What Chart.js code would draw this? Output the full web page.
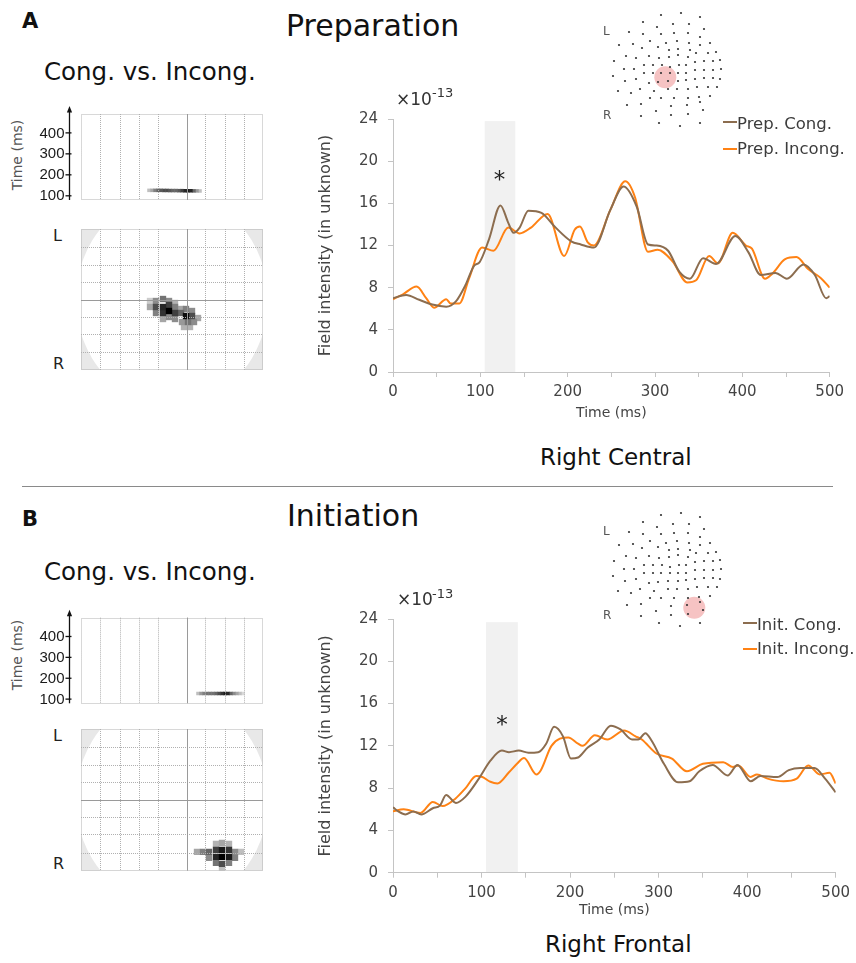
<!DOCTYPE html>
<html lang="en">
<head>
<meta charset="UTF-8">
<title>Cong. vs. Incong. – Preparation / Initiation</title>
<style>
  body { margin: 0; background: #fff; font-family: "DejaVu Sans", sans-serif; color: #222; }
  #fig { position: relative; width: 856px; height: 963px; overflow: hidden; background: #fff; }
  #fig canvas { position: absolute; }
  .t { position: absolute; line-height: 1; white-space: nowrap; }
  .big { font-size: 30px; color: #111; }
  .sub { font-size: 24.5px; color: #111; }
  .lab { font-weight: bold; font-size: 21px; color: #111; }
  .roi { font-size: 23px; color: #111; }
  .lr { font-size: 16px; color: #222; }
  .lr-s { font-size: 12px; color: #555; }
  .tms { font-size: 14px; color: #555; transform: translate(-50%, -50%) rotate(-90deg); }
  .leg { font-size: 16.5px; color: #3c3c3c; }
  .leg i { position: absolute; left: -14px; width: 14px; height: 2px; }
  .mul { font-size: 17px; color: #333; }
  .exp { font-size: 13px; color: #333; }
  #sep { position: absolute; left: 22px; top: 486px; width: 811px; height: 1px; background: #8a8a8a; }
</style>
</head>
<body>
<div id="fig">
  <!-- panel A -->
  <div class="t lab" style="left:22px; top:10.5px;">A</div>
  <div class="t big" style="left:286px; top:11px;">Preparation</div>
  <div class="t sub" style="left:44px; top:60px;">Cong. vs. Incong.</div>
  <div class="t tms" style="left:17px; top:155px;">Time (ms)</div>
  <div class="t lr" style="left:53px; top:228px;">L</div>
  <div class="t lr" style="left:53px; top:356px;">R</div>
  <canvas id="brainTA" width="280" height="110" style="left:0; top:100px;"></canvas>
  <canvas id="brainHA" width="280" height="160" style="left:0; top:220px;"></canvas>
  <canvas id="chartA" width="540" height="330" style="left:310px; top:100px;"></canvas>
  <canvas id="sensA" width="140" height="140" style="left:596.7px; top:0;"></canvas>
  <div class="t lr-s" style="left:603px; top:25px;">L</div>
  <div class="t lr-s" style="left:603px; top:108.5px;">R</div>
  <div class="t mul" style="left:396px; top:90.8px;">×10</div>
  <div class="t exp" style="left:432px; top:86.2px;">-13</div>
  <div class="t leg" style="left:737px; top:116.3px;"><i style="top:5px; background:#8c6d4f;"></i>Prep. Cong.</div>
  <div class="t leg" style="left:737px; top:140.6px;"><i style="top:7px; background:#ff8214;"></i>Prep. Incong.</div>
  <div class="t roi" style="left:540px; top:445.5px;">Right Central</div>

  <div id="sep"></div>

  <!-- panel B -->
  <div class="t lab" style="left:22px; top:508.7px;">B</div>
  <div class="t big" style="left:287px; top:500.6px;">Initiation</div>
  <div class="t sub" style="left:44px; top:560px;">Cong. vs. Incong.</div>
  <div class="t tms" style="left:17px; top:655px;">Time (ms)</div>
  <div class="t lr" style="left:53px; top:728px;">L</div>
  <div class="t lr" style="left:53px; top:856px;">R</div>
  <canvas id="brainTB" width="280" height="110" style="left:0; top:600px;"></canvas>
  <canvas id="brainHB" width="280" height="160" style="left:0; top:720px;"></canvas>
  <canvas id="chartB" width="546" height="330" style="left:310px; top:600px;"></canvas>
  <canvas id="sensB" width="140" height="140" style="left:596.7px; top:500px;"></canvas>
  <div class="t lr-s" style="left:603px; top:525px;">L</div>
  <div class="t lr-s" style="left:603px; top:608.5px;">R</div>
  <div class="t mul" style="left:397px; top:591px;">×10</div>
  <div class="t exp" style="left:432px; top:586.5px;">-13</div>
  <div class="t leg" style="left:757px; top:617.1px;"><i style="top:5px; background:#8c6d4f;"></i>Init. Cong.</div>
  <div class="t leg" style="left:757px; top:641.1px;"><i style="top:7px; background:#ff8214;"></i>Init. Incong.</div>
  <div class="t roi" style="left:545px; top:933px;">Right Frontal</div>
</div>

<script src="https://cdn.jsdelivr.net/npm/chart.js"></script>
<script>
  // ---- field intensity curves (x10^-13), time in ms ----
  const prepCongT = [0, 15, 30, 45, 61, 72, 83, 93, 99, 110, 123, 132, 138, 145, 155, 170, 185, 204, 215, 230, 249, 264, 279, 292, 302, 315, 328, 340, 355, 370, 392, 407, 421, 438, 451, 470, 483, 496, 500];
  const prepCongV = [7.0, 7.3, 6.85, 6.4, 6.2, 6.7, 8.25, 10.1, 10.4, 12.6, 15.8, 14.15, 13.2, 13.7, 15.3, 15.1, 13.8, 12.4, 12.1, 11.8, 15.4, 17.6, 15.7, 12.1, 12.0, 11.5, 9.5, 8.85, 10.8, 10.25, 12.9, 11.35, 9.2, 9.4, 8.85, 10.2, 9.2, 7.0, 7.2];
  const prepIncongT = [0, 11, 27, 38, 47, 61, 66, 76, 87, 102, 115, 132, 145, 158, 177, 196, 208, 214, 223, 230, 249, 266, 277, 292, 303, 320, 337, 347, 362, 372, 389, 404, 411, 426, 434, 449, 462, 475, 490, 500];
  const prepIncongV = [6.9, 7.35, 8.1, 7.0, 6.1, 6.9, 6.5, 6.5, 8.85, 11.8, 11.5, 13.7, 13.15, 13.7, 15.0, 11.0, 13.5, 13.8, 12.3, 12.0, 15.4, 18.1, 16.6, 11.4, 11.6, 10.5, 8.5, 8.7, 11.0, 10.3, 13.2, 12.0, 11.7, 8.85, 9.3, 10.7, 10.9, 9.8, 8.9, 8.0];

  const initCongT = [0, 6, 14, 23, 32, 45, 53, 60, 71, 82, 97, 110, 123, 131, 142, 153, 164, 173, 182, 192, 201, 209, 220, 233, 246, 257, 270, 277, 285, 292, 306, 322, 335, 346, 361, 378, 389, 404, 415, 434, 447, 460, 476, 488, 500];
  const initCongV = [6.2, 5.8, 5.5, 5.8, 5.5, 6.1, 6.35, 7.35, 6.6, 7.2, 8.9, 10.6, 11.55, 11.4, 11.55, 11.35, 11.4, 12.2, 13.8, 12.9, 10.8, 10.9, 11.85, 12.6, 13.9, 13.55, 12.6, 12.6, 13.2, 12.5, 10.3, 8.55, 8.65, 9.6, 10.2, 9.2, 10.2, 8.65, 9.15, 9.05, 9.7, 9.9, 9.9, 8.9, 7.6];
  const initIncongT = [0, 12, 31, 45, 56, 71, 82, 94, 101, 110, 118, 131, 140, 148, 162, 167, 179, 198, 209, 214, 228, 242, 261, 274, 281, 298, 315, 332, 350, 373, 384, 390, 404, 411, 423, 441, 456, 469, 482, 493, 500];
  const initIncongV = [5.8, 6.0, 5.65, 6.7, 6.3, 7.05, 8.0, 9.15, 9.05, 8.6, 8.45, 9.5, 10.3, 10.85, 9.3, 9.7, 12.0, 12.8, 12.2, 12.0, 13.0, 12.6, 13.45, 12.9, 12.6, 11.25, 10.8, 9.6, 10.3, 10.45, 10.0, 10.15, 9.05, 9.3, 8.9, 8.65, 8.9, 10.15, 9.3, 9.45, 8.45];

  // significant window [start ms, end ms, top value] and asterisk [ms, value]
  const windowA = [105, 140, 23.8];
  const windowB = [105, 141, 23.7];
  const starA = [122, 18.4];
  const starB = [123, 14.2];

  // ---- glass-brain panels (sensor-space x, y and time) ----
  const timeTicks = [100, 200, 300, 400];
  const gridX = [-72, -52.5, -33, -14.5, 14.5, 33, 52.5, 72];
  const gridY = [-52.8, -34.6, -17.5, 17.5, 34.6, 52.8];
  const crossX = 14.5;

  const clusterTimeAX = [-23, -20, -17, -14, -11, -8, -5, -2, 1, 4, 7, 10, 13, 16, 19, 22, 25, 28];
  const clusterTimeAT = [126, 126, 126, 126, 126, 125.5, 125.5, 125, 125, 125, 124.5, 124.5, 124, 124, 124, 123.5, 123.5, 123];
  const clusterTimeAV = [0.25, 0.35, 0.5, 0.6, 0.65, 0.7, 0.7, 0.65, 0.6, 0.6, 0.65, 0.75, 0.85, 0.9, 0.85, 0.6, 0.4, 0.25];
  const clusterSpaceAX = [-22, -16, -9, -3, 3, -22, -16, -9, -3, 3, 9, -16, -9, -3, 3, 9, -9, -3, 3, 14, 20, 14, 20, 26, 10, 16, 22, 12, 18];
  const clusterSpaceAY = [-1.5, -1.5, 0.5, -1.5, -3.5, -7.5, -7.5, -7.5, -5.5, -7.5, -9.5, -13.5, -13.5, -11.5, -13.5, -13.5, -19.5, -17.5, -19.5, -9.5, -11.5, -16.5, -16.5, -18.5, -22.5, -22.5, -22.5, -27.5, -27.5];
  const clusterSpaceAV = [0.2, 0.45, 0.55, 0.45, 0.3, 0.35, 0.7, 0.85, 0.75, 0.5, 0.35, 0.5, 0.8, 1.0, 0.75, 0.6, 0.35, 0.45, 0.45, 0.5, 0.45, 0.95, 0.7, 0.35, 0.4, 0.55, 0.45, 0.3, 0.3];

  const clusterTimeBX = [26, 29, 32, 35, 38, 41, 44, 47, 50, 53, 56, 59, 62, 65, 68, 71];
  const clusterTimeBT = [127, 127, 127, 127, 127, 127, 127, 127, 127, 127, 127, 127, 127, 127, 127, 127];
  const clusterTimeBV = [0.25, 0.4, 0.5, 0.55, 0.55, 0.55, 0.6, 0.7, 0.8, 0.9, 0.85, 0.6, 0.45, 0.35, 0.25, 0.15];
  const clusterSpaceBX = [44, 50, 57, 25, 31, 37, 44, 50, 57, 63, 69, 37, 44, 50, 57, 63, 44, 50, 57, 50];
  const clusterSpaceBY = [-44, -43, -44, -52, -52, -52, -50, -50, -50, -52, -52, -58, -57, -57, -57, -58, -63, -64, -63, -69];
  const clusterSpaceBV = [0.3, 0.35, 0.3, 0.35, 0.5, 0.6, 0.75, 0.9, 0.8, 0.45, 0.25, 0.45, 0.85, 1.0, 0.9, 0.5, 0.55, 0.7, 0.5, 0.25];

  // ---- MEG sensor layout (top view) and selected region ----
  const sensorX = [-6, 14, 33, -24, -10, 6, 22, 37, -38, -24, -6, 7, 21, 33, -17, -1, 10, 22, 43, -48, -34, -25, -9, 2, 11, 23, 33, 49, -41, -31, -18, -8, 2, 11, 21, 29, 41, -53, -23, -14, -5, 3, 12, 19, 28, 37, 46, 53, -43, -33, -23, -14, -6, 3, 11, 19, 28, 37, 46, 54, -54, -42, -31, -18, -9, 1, 11, 19, 28, 37, 46, 53, -49, -36, -27, -13, 1, 10, 21, 30, 41, 50, -40, -26, -17, -6, 7, 21, 32, 43, -26, -11, 4, 20, 33, 36, 21, 4, -8, 13, 33];
  const sensorY = [55, 57, 53, 48, 43, 46, 46, 41, 38, 36, 36, 37, 37, 33, 29, 27, 29, 27, 27, 25, 26, 22, 23, 20, 21, 20, 25, 18, 14, 12, 14, 12, 13, 15, 13, 17, 17, 9, 5, 5, 5, 3, 5, 5, 8, 9, 9, 10, 1, 1, -3, -3, -3, -3, -3, -3, 0, 0, 0, 1, -6, -11, -9, -13, -12, -11, -11, -10, -9, -8, -8, -9, -21, -23, -19, -21, -19, -19, -19, -17, -17, -17, -35, -34, -28, -28, -28, -28, -27, -26, -46, -41, -36, -35, -32, -40, -44, -45, -53, -56, -53];
  const roiA = [-1.7, -7.3];
  const roiB = [27.3, -37.7];

  const BROWN = '#8c6d4f';
  const ORANGE = '#ff8214';
  const FONT = '"DejaVu Sans", sans-serif';
  Chart.defaults.font.family = FONT;

  function pts(xs, ys) { return xs.map((x, i) => ({ x, y: ys[i] })); }

  // ---------- line charts ----------
  function lineChart(id, series, win, star, geo) {
    const marks = {
      id: 'marks',
      beforeDraw(c) {
        const { ctx, scales: { x, y } } = c;
        const l = x.getPixelForValue(win[0]), r = x.getPixelForValue(win[1]);
        const t = y.getPixelForValue(win[2]), b = y.getPixelForValue(0);
        ctx.save();
        ctx.fillStyle = '#f1f1f1';
        ctx.fillRect(l, t, r - l, b - t);
        ctx.restore();
      },
      afterDatasetsDraw(c) {
        const { ctx, scales: { x, y } } = c;
        ctx.save();
        ctx.fillStyle = '#222';
        ctx.font = '23px ' + FONT;
        ctx.textAlign = 'center';
        ctx.textBaseline = 'middle';
        ctx.fillText('*', x.getPixelForValue(star[0]), y.getPixelForValue(star[1]) + 3);
        ctx.restore();
      }
    };
    const tickFont = { family: FONT, size: 15 };
    new Chart(document.getElementById(id), {
      type: 'line',
      data: {
        datasets: series.map(s => ({
          label: s.label,
          data: pts(s.t, s.v),
          borderColor: s.color,
          borderWidth: 2,
          pointRadius: 0,
          fill: false,
          cubicInterpolationMode: 'monotone'
        }))
      },
      options: {
        responsive: false,
        animation: false,
        events: [],
        layout: { autoPadding: false, padding: { left: 0, top: geo.top, right: geo.right, bottom: 0 } },
        plugins: { legend: { display: false }, tooltip: { enabled: false } },
        scales: {
          x: {
            type: 'linear', min: 0, max: 500,
            ticks: { stepSize: 50, autoSkip: false, maxRotation: 0, padding: 6, color: '#444', font: tickFont,
                     callback: v => (v % 100 === 0 ? String(v) : '') },
            grid: { drawOnChartArea: false, drawTicks: true, tickLength: 5, color: '#c4c4c4' },
            border: { color: '#c4c4c4' },
            title: { display: true, text: 'Time (ms)', color: '#444', font: { family: FONT, size: 14 },
                     padding: { top: 0, bottom: geo.titleB } },
            afterFit: s => { s.height = geo.xh; }
          },
          y: {
            min: 0, max: 24,
            ticks: { stepSize: 4, padding: 10, color: '#444', font: tickFont },
            grid: { drawOnChartArea: false, drawTicks: true, tickLength: 5, color: '#c4c4c4' },
            border: { color: '#c4c4c4' },
            title: { display: true, text: 'Field intensity (in unknown)', color: '#444', font: { family: FONT, size: 16 },
                     padding: { top: 6, bottom: 0 } },
            afterFit: s => { s.width = 83; }
          }
        }
      },
      plugins: [marks]
    });
  }

  lineChart('chartA', [
    { label: 'Prep. Cong.', t: prepCongT, v: prepCongV, color: BROWN },
    { label: 'Prep. Incong.', t: prepIncongT, v: prepIncongV, color: ORANGE }
  ], windowA, starA, { top: 14, right: 15, xh: 58, titleB: 8.6 });

  lineChart('chartB', [
    { label: 'Init. Cong.', t: initCongT, v: initCongV, color: BROWN },
    { label: 'Init. Incong.', t: initIncongT, v: initIncongV, color: ORANGE }
  ], windowB, starB, { top: 14.3, right: 15, xh: 57.3, titleB: 11.6 });

  // ---------- glass-brain panels ----------
  function grey(v) { const g = Math.round(255 * (1 - v)); return `rgb(${g},${g},${g})`; }

  function brainPanel(id, o) {
    // lighter cells first so the darkest end up on top
    const idx = o.v.map((_, i) => i).sort((a, b) => o.v[a] - o.v[b]);
    const data = idx.map(i => ({ x: o.x[i], y: o.y[i] }));
    const colors = idx.map(i => grey(o.v[i]));

    const glass = {
      id: 'glass',
      beforeDraw(c) {
        if (!o.head) return;
        const { ctx, chartArea: a, scales: { x, y } } = c;
        ctx.save();
        ctx.fillStyle = '#e8e8e8';
        ctx.fillRect(a.left, a.top, a.width, a.height);
        ctx.beginPath(); ctx.rect(a.left, a.top, a.width, a.height); ctx.clip();
        ctx.fillStyle = '#fff';
        ctx.beginPath();
        ctx.ellipse(x.getPixelForValue(0), y.getPixelForValue(0), 96, 106, 0, 0, Math.PI * 2);
        ctx.fill();
        ctx.restore();
      },
      afterDatasetsDraw(c) {
        const { ctx, chartArea: a, scales: { x, y } } = c;
        const vline = v => { const p = Math.round(x.getPixelForValue(v)) + 0.5; ctx.beginPath(); ctx.moveTo(p, a.top); ctx.lineTo(p, a.bottom); ctx.stroke(); };
        const hline = v => { const p = Math.round(y.getPixelForValue(v)) + 0.5; ctx.beginPath(); ctx.moveTo(a.left, p); ctx.lineTo(a.right, p); ctx.stroke(); };
        ctx.save();
        ctx.lineWidth = 1;
        ctx.strokeStyle = '#b0b0b0';
        ctx.setLineDash([1, 1]);
        gridX.forEach(vline);
        if (o.head) gridY.forEach(hline);
        ctx.strokeRect(Math.round(a.left) + 0.5, Math.round(a.top) + 0.5, Math.round(a.width) - 1, Math.round(a.height) - 1);
        ctx.setLineDash([]);
        ctx.strokeStyle = '#9a9a9a';
        vline(crossX);
        if (o.head) hline(0);
        ctx.restore();
      },
      afterDraw(c) {
        if (o.head) return;
        const { ctx, chartArea: a, scales: { y } } = c;
        const ax = Math.round(a.left) - 12 + 0.5;
        ctx.save();
        ctx.strokeStyle = '#111';
        ctx.fillStyle = '#111';
        ctx.lineWidth = 1.3;
        ctx.beginPath(); ctx.moveTo(ax, a.bottom); ctx.lineTo(ax, a.top - 4); ctx.stroke();
        ctx.beginPath(); ctx.moveTo(ax, a.top - 8); ctx.lineTo(ax - 2.6, a.top - 1.5); ctx.lineTo(ax + 2.6, a.top - 1.5); ctx.closePath(); ctx.fill();
        ctx.font = '15px "Liberation Sans", sans-serif';
        ctx.textAlign = 'right';
        ctx.textBaseline = 'middle';
        ctx.fillStyle = '#1a1a1a';
        timeTicks.forEach(t => {
          const p = y.getPixelForValue(t);
          ctx.beginPath(); ctx.moveTo(ax - 4, p); ctx.lineTo(ax + 2, p); ctx.stroke();
          ctx.fillText(String(t), ax - 5, p + 0.5);
        });
        ctx.restore();
      }
    };

    new Chart(document.getElementById(id), {
      type: 'scatter',
      data: { datasets: [{ data, backgroundColor: colors, borderWidth: 0, pointStyle: 'rect', pointRadius: o.r, pointHoverRadius: o.r }] },
      options: {
        responsive: false,
        animation: false,
        events: [],
        layout: { autoPadding: false, padding: o.pad },
        plugins: { legend: { display: false }, tooltip: { enabled: false } },
        scales: {
          x: { display: false, min: -91, max: 91 },
          y: { display: false, min: o.ymin, max: o.ymax }
        }
      },
      plugins: [glass]
    });
  }

  brainPanel('brainTA', { head: false, x: clusterTimeAX, y: clusterTimeAT, v: clusterTimeAV, r: 2.5, ymin: 80, ymax: 490,
                          pad: { left: 81, right: 17, top: 14, bottom: 10 } });
  brainPanel('brainHA', { head: true, x: clusterSpaceAX, y: clusterSpaceAY, v: clusterSpaceAV, r: 4.5, ymin: -70.5, ymax: 70.5,
                          pad: { left: 81, right: 17, top: 9, bottom: 10 } });
  brainPanel('brainTB', { head: false, x: clusterTimeBX, y: clusterTimeBT, v: clusterTimeBV, r: 2.5, ymin: 80, ymax: 490,
                          pad: { left: 81, right: 17, top: 17.7, bottom: 6.7 } });
  brainPanel('brainHB', { head: true, x: clusterSpaceBX, y: clusterSpaceBY, v: clusterSpaceBV, r: 4.5, ymin: -70.85, ymax: 70.85,
                          pad: { left: 81, right: 17, top: 9, bottom: 9.3 } });

  // ---------- sensor maps ----------
  function sensorMap(id, roi) {
    new Chart(document.getElementById(id), {
      type: 'scatter',
      data: {
        datasets: [
          { data: pts(sensorX, sensorY), backgroundColor: '#333', borderWidth: 0, pointRadius: 1.1, order: 0 },
          { data: [{ x: roi[0], y: roi[1] }], backgroundColor: '#f6c3c3', borderWidth: 0, pointRadius: 11, order: 1 }
        ]
      },
      options: {
        responsive: false,
        animation: false,
        events: [],
        layout: { autoPadding: false, padding: 0 },
        plugins: { legend: { display: false }, tooltip: { enabled: false } },
        scales: {
          x: { display: false, min: -70, max: 70 },
          y: { display: false, min: -70, max: 70 }
        }
      }
    });
  }

  sensorMap('sensA', roiA);
  sensorMap('sensB', roiB);
</script>
</body>
</html>
